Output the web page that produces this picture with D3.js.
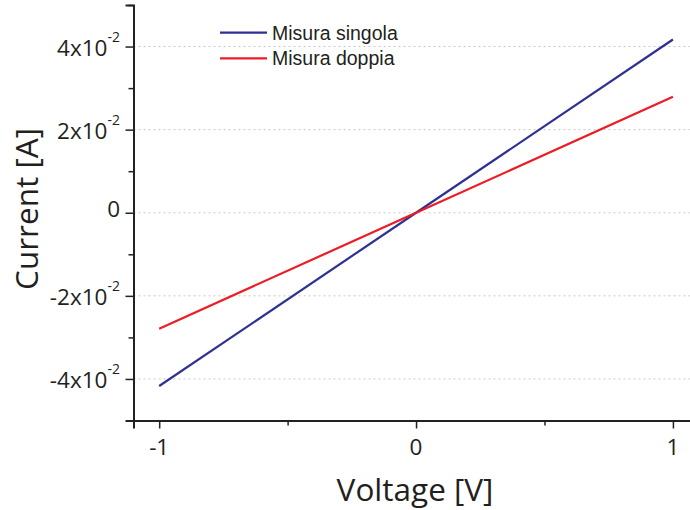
<!DOCTYPE html>
<html>
<head>
<meta charset="utf-8">
<script src="https://cdn.jsdelivr.net/npm/d3@7"></script>
<style>
  body { margin: 0; background: #fff; }
  svg { display: block; }
</style>
</head>
<body>
<svg id="chart" width="690" height="510"></svg>
<script>
// data
var voltage = [-1, 0, 1];
var misuraSingola = [-0.0417, 0, 0.0417];
var misuraDoppia = [-0.0279, 0, 0.0279];
var seriesNames = ["Misura singola", "Misura doppia"];
var seriesColors = ["#2e3192", "#ed1c24"];
var yMajor = [-0.04, -0.02, 0, 0.02, 0.04];
var yMinor = [-0.03, -0.01, 0.01, 0.03, 0.05];
var yLabels = [["-4x10", "-2"], ["-2x10", "-2"], ["0", ""], ["2x10", "-2"], ["4x10", "-2"]];
var xMajor = [-1, 0, 1];
var xMinor = [-0.5, 0.5];

var width = 690, height = 510;
var svg = d3.select("#chart");

var x = d3.scaleLinear().domain([-1.1, 1.1]).range([133.5, 698.6]);
var y = d3.scaleLinear().domain([-0.05, 0.05]).range([420.5, 5]);

var tickFont = "'Open Sans', sans-serif";

// dotted grid at major y ticks
svg.append("g").selectAll("line")
  .data(yMajor)
  .join("line")
  .attr("x1", x(-1.1)).attr("x2", width)
  .attr("y1", d => y(d)).attr("y2", d => y(d))
  .attr("stroke", "#c8c8c8")
  .attr("stroke-width", 1)
  .attr("stroke-dasharray", "2,3");

// y axis
var yAxis = d3.axisLeft(y).tickValues(yMajor).tickSize(8).tickFormat("");
var gy = svg.append("g").attr("transform", "translate(" + x(-1.1) + ",0)").call(yAxis);
var gyMinor = svg.append("g").attr("transform", "translate(" + x(-1.1) + ",0)")
  .call(d3.axisLeft(y).tickValues(yMinor).tickSize(5).tickFormat(""));

// x axis
var xAxis = d3.axisBottom(x).tickValues(xMajor).tickSize(8).tickFormat("");
var gx = svg.append("g").attr("transform", "translate(0," + y(-0.05) + ")").call(xAxis);
var gxMinor = svg.append("g").attr("transform", "translate(0," + y(-0.05) + ")")
  .call(d3.axisBottom(x).tickValues(xMinor).tickSize(5).tickFormat(""));

[gy, gyMinor, gx, gxMinor].forEach(function(g) {
  g.select(".domain").attr("stroke", "#222").attr("stroke-width", 2);
  g.selectAll(".tick line").attr("stroke", "#222").attr("stroke-width", 1.5);
});
gyMinor.select(".domain").remove();
gxMinor.select(".domain").remove();

// y tick labels with superscript exponent (origin style: exponent labels sit lower)
var yl = svg.append("g").selectAll("text")
  .data(yMajor)
  .join("text")
  .attr("x", 120)
  .attr("y", (d, i) => y(d) + (yLabels[i][1] ? 9.5 : 4))
  .attr("text-anchor", "end")
  .attr("font-family", tickFont)
  .attr("font-size", 22.5)
  .attr("fill", "#231f20");
yl.each(function(d, i) {
  var t = d3.select(this);
  t.append("tspan").text(yLabels[i][0]);
  if (yLabels[i][1]) {
    t.append("tspan").attr("dy", -14).attr("font-size", 14).text(yLabels[i][1]);
  }
});

// x tick labels
svg.append("g").selectAll("text")
  .data(xMajor)
  .join("text")
  .attr("x", d => x(d))
  .attr("y", 455)
  .attr("text-anchor", "middle")
  .attr("font-family", tickFont)
  .attr("font-size", 22.5)
  .attr("fill", "#231f20")
  .text(d => d);

// axis titles
svg.append("text")
  .attr("x", 415).attr("y", 501)
  .attr("text-anchor", "middle")
  .attr("font-family", tickFont)
  .attr("font-size", 31.5)
  .attr("fill", "#231f20")
  .text("Voltage [V]");

svg.append("text")
  .attr("transform", "translate(38,209) rotate(-90)")
  .attr("text-anchor", "middle")
  .attr("font-family", tickFont)
  .attr("font-size", 31.5)
  .attr("fill", "#231f20")
  .text("Current [A]");

// data lines
var line = d3.line().x((d, i) => x(voltage[i])).y(d => y(d));
[misuraSingola, misuraDoppia].forEach(function(s, k) {
  svg.append("path")
    .datum(s)
    .attr("d", line)
    .attr("fill", "none")
    .attr("stroke", seriesColors[k])
    .attr("stroke-width", 2.2);
});

// legend
var lg = svg.append("g").selectAll("g")
  .data(seriesNames)
  .join("g")
  .attr("transform", (d, i) => "translate(220," + (32.7 + i * 25.6) + ")");
lg.append("line")
  .attr("x1", 0).attr("x2", 47)
  .attr("stroke", (d, i) => seriesColors[i])
  .attr("stroke-width", 2.2);
lg.append("text")
  .attr("x", 52).attr("y", 7)
  .attr("font-family", "'Liberation Sans', Arial, sans-serif")
  .attr("font-size", 19.5)
  .attr("fill", "#231f20")
  .text(d => d);
</script>
</body>
</html>
